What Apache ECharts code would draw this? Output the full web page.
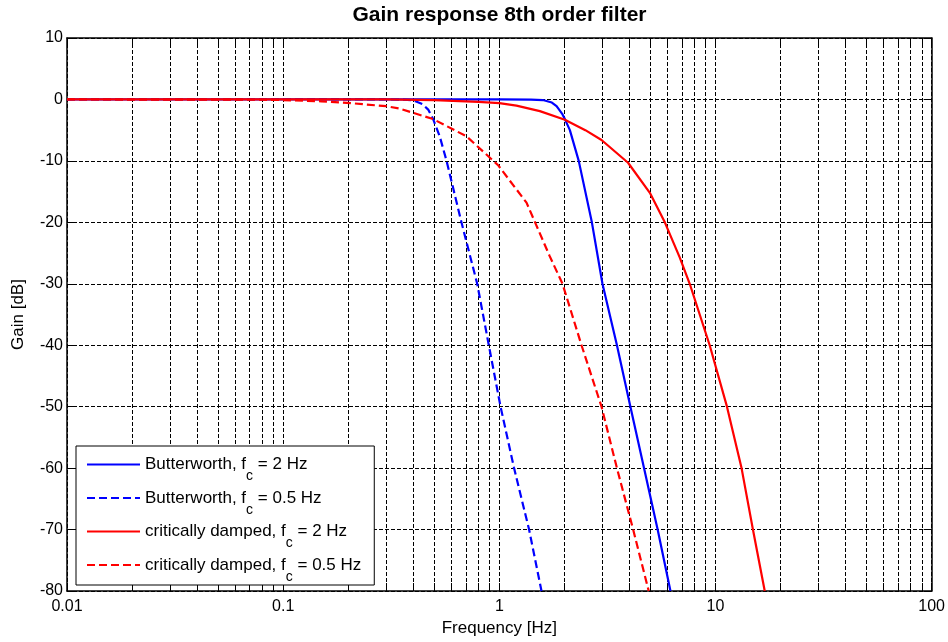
<!DOCTYPE html>
<html>
<head>
<meta charset="utf-8">
<script src="https://cdn.jsdelivr.net/npm/echarts@6/dist/echarts.min.js"></script>
<style>
  html, body { margin: 0; padding: 0; background: #fff; }
  #chart { width: 948px; height: 642px; }
</style>
</head>
<body>
<div id="chart"></div>
<script>
// gain curves (frequency in Hz, gain in dB)
const bw2Freq = [0.01, 1, 1.4, 1.59, 1.75, 1.84, 1.95, 2.01, 2.12, 2.33, 2.68, 3.0, 3.5, 4.04, 4.67, 5.4, 6.19];
const bw2Gain = [0, 0, -0.02, -0.1, -0.5, -1.1, -2.3, -3.2, -5.0, -10, -20, -30, -40, -50, -60, -70, -80];

const bw05Freq = [0.01, 0.3, 0.36, 0.4, 0.443, 0.47, 0.494, 0.53, 0.57, 0.668, 0.79, 0.894, 1.013, 1.17, 1.373, 1.567];
const bw05Gain = [0, 0, -0.03, -0.15, -0.8, -1.7, -3.2, -6.0, -10, -20, -30, -40, -50, -60, -70, -80];

const cd2Freq = [0.01, 0.3, 0.5, 0.8, 1.0, 1.2, 1.54, 2.01, 2.5, 2.97, 3.94, 4.97, 5.83, 6.83, 7.6, 9.4, 11.3, 13.2, 14.9, 16.9];
const cd2Gain = [0, 0, -0.1, -0.4, -0.6, -1.0, -1.9, -3.3, -5.0, -6.6, -10.3, -15.2, -20, -25.7, -30, -40, -50, -60, -70, -80];

const cd05Freq = [0.01, 0.08, 0.1, 0.15, 0.197, 0.3, 0.347, 0.494, 0.705, 0.987, 1.336, 1.71, 1.96, 2.4, 2.97, 3.5, 4.16, 4.91];
const cd05Gain = [0, -0.05, -0.1, -0.3, -0.55, -1.1, -1.5, -3.2, -6.0, -10.7, -16.8, -25.5, -30, -40, -50, -60, -70, -80];

const seriesNames = [
  'Butterworth, fc = 2 Hz',
  'Butterworth, fc = 0.5 Hz',
  'critically damped, fc = 2 Hz',
  'critically damped, fc = 0.5 Hz'
];

// decade labels and the 1-2-...-9 grid positions on the log axis
const xLabelValues = [0.01, 0.1, 1, 10, 100];
const xGridValues = [];
[0.01, 0.1, 1, 10].forEach(d => {
  for (let k = 1; k < 10; k++) xGridValues.push(+(d * k).toPrecision(3));
});
xGridValues.push(100);

const font = "'Liberation Sans', Arial, sans-serif";
const pairs = (xs, ys) => xs.map((x, i) => [x, ys[i]]);
const fmt = v => String(parseFloat(Number(v).toPrecision(6)));

const gridDash = { color: '#000', width: 1, type: [4, 2] };

const chart = echarts.init(document.getElementById('chart'));
const option = {
  animation: false,
  backgroundColor: '#fff',
  textStyle: { fontFamily: font },
  title: {
    text: 'Gain response 8th order filter',
    left: 499.5,
    textAlign: 'center',
    top: 5,
    padding: 0,
    textStyle: { fontFamily: font, fontSize: 21, fontWeight: 'bold', color: '#000' }
  },
  grid: { left: 67, right: 16, top: 38, bottom: 50 },
  legend: {
    orient: 'vertical',
    left: 76,
    top: 446,
    padding: [10, 13, 1, 10],
    itemWidth: 53,
    itemHeight: 14,
    itemGap: 6,
    borderColor: '#000',
    borderWidth: 1,
    borderRadius: 0,
    backgroundColor: '#fff',
    itemStyle: { opacity: 0 },
    data: seriesNames,
    formatter: n => '{t|' + n.replace('fc', 'f}{s|c}{t|') + '}',
    textStyle: {
      color: '#000',
      fontFamily: font,
      rich: {
        t: { fontSize: 17, color: '#000', fontFamily: font },
        s: { fontSize: 14, color: '#000', fontFamily: font, padding: [24, 0, 0, 0] }
      }
    }
  },
  xAxis: [
    {
      type: 'log',
      logBase: 10,
      min: 0.01,
      max: 100,
      name: 'Frequency [Hz]',
      nameLocation: 'middle',
      nameGap: 29,
      nameTextStyle: { color: '#000', fontSize: 17, fontFamily: font },
      axisLine: { onZero: false, lineStyle: { color: '#000', width: 1.5 } },
      axisTick: { inside: true, length: 8, customValues: xGridValues, lineStyle: { color: '#000' } },
      axisLabel: { customValues: xLabelValues, formatter: fmt, color: '#000', fontSize: 16, margin: 8, fontFamily: font },
      splitLine: { show: true, lineStyle: gridDash },
      minorTick: { show: false },
      minorSplitLine: { show: false }
    },
    {
      type: 'log',
      logBase: 10,
      position: 'top',
      min: 0.01,
      max: 100,
      axisLine: { onZero: false, lineStyle: { color: '#000', width: 1.5 } },
      axisTick: { inside: true, length: 8, customValues: xGridValues, lineStyle: { color: '#000' } },
      axisLabel: { show: false },
      splitLine: { show: false }
    }
  ],
  yAxis: [
    {
      type: 'value',
      min: -80,
      max: 10,
      interval: 10,
      name: 'Gain [dB]',
      nameLocation: 'middle',
      nameGap: 40,
      nameTextStyle: { color: '#000', fontSize: 17, fontFamily: font },
      axisLine: { onZero: false, lineStyle: { color: '#000', width: 1.5 } },
      axisTick: { inside: true, length: 8, lineStyle: { color: '#000' } },
      axisLabel: { color: '#000', fontSize: 16, margin: 4, fontFamily: font },
      splitLine: { show: true, lineStyle: gridDash }
    },
    {
      type: 'value',
      position: 'right',
      min: -80,
      max: 10,
      interval: 10,
      axisLine: { onZero: false, lineStyle: { color: '#000', width: 1.5 } },
      axisTick: { inside: true, length: 8, lineStyle: { color: '#000' } },
      axisLabel: { show: false },
      splitLine: { show: false }
    }
  ],
  series: [
    { name: seriesNames[0], data: pairs(bw2Freq, bw2Gain), color: '#0000ff', lineStyle: { color: '#0000ff', width: 2.2, type: 'solid' } },
    { name: seriesNames[1], data: pairs(bw05Freq, bw05Gain), color: '#0000ff', lineStyle: { color: '#0000ff', width: 2.2, type: [8, 4] } },
    { name: seriesNames[2], data: pairs(cd2Freq, cd2Gain), color: '#ff0000', lineStyle: { color: '#ff0000', width: 2.2, type: 'solid' } },
    { name: seriesNames[3], data: pairs(cd05Freq, cd05Gain), color: '#ff0000', lineStyle: { color: '#ff0000', width: 2.2, type: [8, 4] } }
  ].map(s => Object.assign({ type: 'line', symbol: 'none', smooth: false, clip: true, xAxisIndex: 0, yAxisIndex: 0 }, s))
};
chart.setOption(option);
</script>
</body>
</html>
